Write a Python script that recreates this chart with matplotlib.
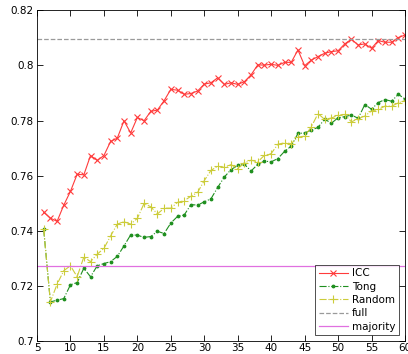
import matplotlib
matplotlib.use("Agg")
import matplotlib.pyplot as plt
import numpy as np

x = list(range(6, 61))

icc = [0.7467, 0.7446, 0.7434, 0.7493, 0.7543, 0.7605, 0.7603, 0.7673, 0.7655, 0.7673,
       0.7724, 0.7736, 0.7799, 0.7755, 0.7811, 0.7799, 0.7833, 0.7838, 0.7872, 0.7913,
       0.7910, 0.7895, 0.7898, 0.7907, 0.7932, 0.7937, 0.7955, 0.7931, 0.7937, 0.7931,
       0.7941, 0.7966, 0.8002, 0.8001, 0.8004, 0.8000, 0.8011, 0.8011, 0.8056, 0.7999,
       0.8019, 0.8032, 0.8044, 0.8050, 0.8053, 0.8078, 0.8095, 0.8074, 0.8078, 0.8062,
       0.8090, 0.8084, 0.8084, 0.8101, 0.8110]

tong = [0.7405, 0.7142, 0.7148, 0.7154, 0.7204, 0.7212, 0.7264, 0.7233, 0.7273, 0.7281,
        0.7288, 0.7307, 0.7345, 0.7385, 0.7384, 0.7376, 0.7379, 0.7398, 0.7390, 0.7428,
        0.7452, 0.7457, 0.7495, 0.7493, 0.7505, 0.7516, 0.7557, 0.7595, 0.7622, 0.7637,
        0.7641, 0.7617, 0.7641, 0.7653, 0.7650, 0.7662, 0.7688, 0.7707, 0.7753, 0.7755,
        0.7765, 0.7775, 0.7805, 0.7790, 0.7810, 0.7814, 0.7820, 0.7808, 0.7858, 0.7841,
        0.7865, 0.7876, 0.7870, 0.7895, 0.7878]

rand = [0.7405, 0.7142, 0.7206, 0.7255, 0.7273, 0.7233, 0.7305, 0.7288, 0.7315, 0.7336,
        0.7381, 0.7424, 0.7433, 0.7424, 0.7445, 0.7499, 0.7487, 0.7461, 0.7482, 0.7482,
        0.7503, 0.7509, 0.7525, 0.7539, 0.7582, 0.7619, 0.7634, 0.7630, 0.7640, 0.7625,
        0.7646, 0.7656, 0.7650, 0.7674, 0.7680, 0.7714, 0.7719, 0.7716, 0.7740, 0.7743,
        0.7777, 0.7825, 0.7804, 0.7809, 0.7819, 0.7822, 0.7795, 0.7807, 0.7816, 0.7835,
        0.7840, 0.7852, 0.7852, 0.7864, 0.7872]

full_acc = 0.8097
majority_acc = 0.7273

fig = plt.figure(figsize=(4.08, 3.54), dpi=100)
ax = fig.add_axes([0.0907, 0.0367, 0.9019, 0.9343])

ax.plot(x, icc, color='#ff3b3b', linestyle='-', marker='x', markersize=4, linewidth=0.8,
        markeredgewidth=0.8, label='ICC')
ax.plot(x, tong, color='#1f8f1f', linestyle='-.', marker='.', markersize=3.5, linewidth=0.8,
        label='Tong')
ax.plot(x, rand, color='#cccc3a', linestyle='-.', marker='+', markersize=6, linewidth=0.8,
        markeredgewidth=0.8, label='Random')
ax.axhline(full_acc, color='#9a9a9a', linestyle='--', linewidth=0.9, label='full')
ax.axhline(majority_acc, color='#e070e0', linestyle='-', linewidth=0.9, label='majority')

ax.set_xlim(5, 60)
ax.set_ylim(0.7, 0.82)
ax.set_xticks(np.arange(5, 61, 5))
ax.set_yticks([0.7, 0.72, 0.74, 0.76, 0.78, 0.8, 0.82])
ax.set_yticklabels(['0.7', '0.72', '0.74', '0.76', '0.78', '0.8', '0.82'])
ax.tick_params(direction='in', top=True, right=True, labelsize=7.5, length=4, width=0.6)
ax.tick_params(axis='x', pad=1.5)
ax.tick_params(axis='y', pad=2.5)
for s in ax.spines.values():
    s.set_linewidth(0.6)

leg = ax.legend(loc='lower right', fontsize=7.5, frameon=True, fancybox=False,
                edgecolor='black', borderpad=0.35, labelspacing=0.32, handlelength=2.8,
                handletextpad=0.4, borderaxespad=0.55)
leg.get_frame().set_linewidth(0.6)

fig.savefig('out.png', dpi=100)
